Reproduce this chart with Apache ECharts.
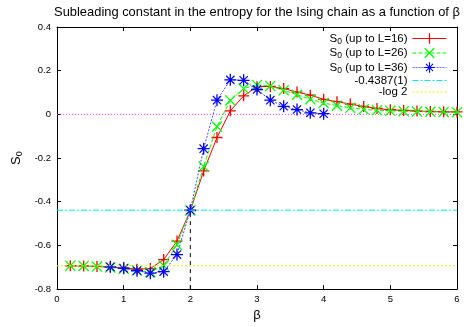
<!DOCTYPE html>
<html><head><meta charset="utf-8">
<script src="https://cdn.jsdelivr.net/npm/echarts@6/dist/echarts.min.js"></script>
<style>html,body{margin:0;padding:0;background:#fff}#c{width:467px;height:327px}</style>
</head><body><div id="c"></div>
<script>
// ---- data ----
const betaL16 = [0.2,0.4,0.6,0.8,1.0,1.2,1.4,1.6,1.8,2.0,2.2,2.4,2.6,2.8,3.0,3.2,3.4,3.6,3.8,4.0,4.2,4.4,4.6,4.8,5.0,5.2,5.4,5.6,5.8,6.0];
const s0L16 = [-0.693,-0.694,-0.696,-0.699,-0.703,-0.709,-0.706,-0.665,-0.580,-0.440,-0.259,-0.106,0.016,0.085,0.127,0.128,0.118,0.102,0.088,0.069,0.058,0.047,0.036,0.027,0.021,0.018,0.015,0.013,0.012,0.011];
const betaL26 = [0.2,0.4,0.6,0.8,1.0,1.2,1.4,1.6,1.8,2.0,2.2,2.4,2.6,2.8,3.0,3.2,3.4,3.6,3.8,4.0,4.2,4.4,4.6,4.8,5.0,5.2,5.4,5.6,5.8,6.0];
const s0L26 = [-0.693,-0.694,-0.697,-0.701,-0.707,-0.715,-0.722,-0.692,-0.597,-0.440,-0.239,-0.056,0.064,0.118,0.135,0.130,0.110,0.090,0.069,0.052,0.040,0.030,0.023,0.019,0.016,0.014,0.013,0.012,0.011,0.010];
const betaL36 = [0.8,1.0,1.2,1.4,1.6,1.8,2.0,2.2,2.4,2.6,2.8,3.0,3.2,3.4,3.6,3.8,4.0];
const s0L36 = [-0.698,-0.705,-0.716,-0.727,-0.720,-0.642,-0.4387,-0.157,0.065,0.158,0.156,0.114,0.065,0.037,0.022,0.007,0.003];
const critValue = -0.4387;
const minusLog2 = -0.6931;
const betaC = 2;
const xLimits = [0, 6];
const yLimits = [-0.8, 0.4];
const seriesNames = ['S0 (up to L=16)','S0 (up to L=26)','S0 (up to L=36)','-0.4387(1)','-log 2'];
const titleText = 'Subleading constant in the entropy for the Ising chain as a function of β';

// ---- symbols ----
const PLUS = 'path://M4.4,0h1.2v10h-1.2z M0,4.4h10v1.2h-10z';
const CROSS = 'path://M0,0.8L0.8,0L10,9.2L9.2,10Z M10,0.8L0.8,10L0,9.2L9.2,0Z';
const ASTER = 'path://M4.45,0h1.1v10h-1.1z M0,4.45h10v1.1h-10z M1.2,1.9L1.9,1.2L8.8,8.1L8.1,8.8Z M8.8,1.9L1.9,8.8L1.2,8.1L8.1,1.2Z';

const zip = (xs, ys) => xs.map((x, i) => [x, ys[i]]);
const FONT = 'Liberation Sans';

const chart = echarts.init(document.getElementById('c'), null, {renderer: 'canvas'});
const axisCommon = {
  type: 'value',
  splitLine: {show: false},
  axisLine: {show: true, onZero: false, lineStyle: {color: '#000', width: 1}},
  axisTick: {show: true, inside: true, length: 4, lineStyle: {color: '#000'}},
};
const legendData = seriesNames.map((n, i) => {
  if (i >= 3) return {name: n, itemStyle: {opacity: 0}};
  if (i === 2) return {name: n, lineStyle: {color: '#6a6aff', width: 1, type: [2, 1]}};
  return {name: n};
});
chart.setOption({
  animation: false,
  backgroundColor: '#fff',
  title: {
    text: titleText, left: 257, top: 6, textAlign: 'center', padding: 0,
    textStyle: {fontFamily: FONT, fontSize: 12.9, fontWeight: 'normal', color: '#000'}
  },
  legend: {
    orient: 'vertical', right: 20, top: 31, align: 'right',
    itemWidth: 34, itemHeight: 13, itemGap: -0.5, padding: 0,
    lineStyle: {width: 1, color: 'inherit', type: 'inherit'},
    data: legendData,
    formatter: (name) => name.indexOf('S0') === 0 ? '{a|S}{b|0}{a|' + name.slice(2) + '}' : '{a|' + name + '}',
    textStyle: {
      fontFamily: FONT, color: '#000',
      rich: {
        a: {fontFamily: FONT, fontSize: 11.5, color: '#000', lineHeight: 12},
        b: {fontFamily: FONT, fontSize: 8.5, color: '#000', lineHeight: 8, padding: [6, 0, 0, 0]}
      }
    }
  },
  grid: {left: 57, right: 10, top: 27, bottom: 30, containLabel: false},
  xAxis: [
    Object.assign({}, axisCommon, {
      min: xLimits[0], max: xLimits[1], interval: 1, position: 'bottom',
      name: 'β', nameLocation: 'middle', nameGap: 17,
      nameTextStyle: {fontFamily: FONT, fontSize: 13, color: '#000'},
      axisLabel: {fontFamily: FONT, fontSize: 9.5, color: '#000', margin: 5}
    }),
    Object.assign({}, axisCommon, {
      min: xLimits[0], max: xLimits[1], interval: 1, position: 'top', axisLabel: {show: false}
    })
  ],
  yAxis: [
    Object.assign({}, axisCommon, {
      min: yLimits[0], max: yLimits[1], interval: 0.2, position: 'left',
      name: '{a|S}{b|0}', nameLocation: 'middle', nameGap: 25,
      nameTextStyle: {
        rich: {
          a: {fontFamily: FONT, fontSize: 13, color: '#000', lineHeight: 13},
          b: {fontFamily: FONT, fontSize: 9, color: '#000', lineHeight: 9, padding: [6, 0, 0, 0]}
        }
      },
      axisLabel: {fontFamily: FONT, fontSize: 9.5, color: '#000', margin: 6}
    }),
    Object.assign({}, axisCommon, {
      min: yLimits[0], max: yLimits[1], interval: 0.2, position: 'right', axisLabel: {show: false}
    })
  ],
  series: [
    {
      name: 'zero', type: 'line', data: [[xLimits[0], 0], [xLimits[1], 0]], symbol: 'none', silent: true,
      lineStyle: {color: '#ff00ff', width: 1, type: [1, 2], opacity: 0.8}, z: 1
    },
    {
      name: 'betaC', type: 'line', data: [[betaC, yLimits[0]], [betaC, critValue]], symbol: 'none', silent: true,
      lineStyle: {color: '#000', width: 1, type: [4, 4]}, z: 1
    },
    {
      name: seriesNames[0], type: 'line', data: zip(betaL16, s0L16),
      symbol: PLUS, symbolSize: 11, showAllSymbol: true,
      lineStyle: {color: '#ff0000', width: 1, type: 'solid'},
      itemStyle: {color: '#ff0000', borderWidth: 0}, z: 2
    },
    {
      name: seriesNames[1], type: 'line', data: zip(betaL26, s0L26),
      symbol: CROSS, symbolSize: 11, showAllSymbol: true,
      lineStyle: {color: '#00ff00', width: 1, type: [4, 2]},
      itemStyle: {color: '#00ff00', borderWidth: 0}, z: 3
    },
    {
      name: seriesNames[2], type: 'line', data: zip(betaL36, s0L36),
      symbol: ASTER, symbolSize: 12, showAllSymbol: true,
      lineStyle: {color: '#4a4aff', width: 1, type: [2, 1.5]},
      itemStyle: {color: '#0000ff', borderWidth: 0}, z: 4
    },
    {
      name: seriesNames[3], type: 'line', data: [[xLimits[0], critValue], [xLimits[1], critValue]],
      symbol: 'none', lineStyle: {color: '#00e8e8', width: 1, type: [6, 2, 2, 2]},
      itemStyle: {color: '#00e8e8'}, z: 5
    },
    {
      name: seriesNames[4], type: 'line', data: [[xLimits[0], minusLog2], [xLimits[1], minusLog2]],
      symbol: 'none', lineStyle: {color: '#f0f000', width: 1, type: [2, 2]},
      itemStyle: {color: '#f0f000'}, z: 5
    }
  ]
});
</script>
</body></html>
